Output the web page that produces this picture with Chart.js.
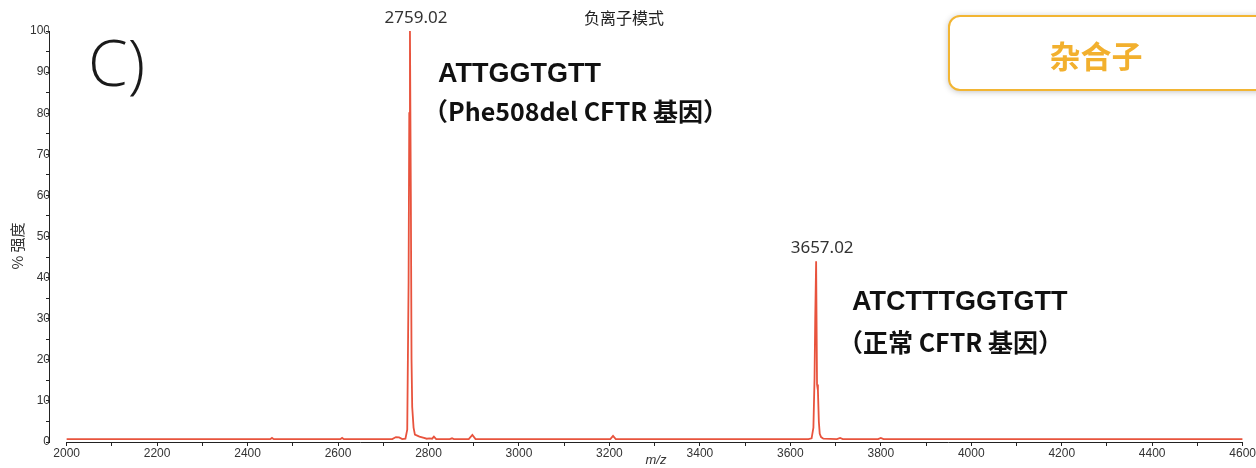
<!DOCTYPE html>
<html>
<head>
<meta charset="utf-8">
<script src="https://cdn.jsdelivr.net/npm/chart.js@4"></script>
<style>
  html, body { margin: 0; padding: 0; background: #fff; }
  #wrap { width: 1256px; height: 468px; position: relative; }
</style>
</head>
<body>
<div id="wrap"><canvas id="c" width="1256" height="468"></canvas></div>
<script>
// ---- data ----
const mz = [2000, 2450, 2454, 2458, 2605, 2609, 2613, 2720, 2728, 2735, 2742, 2749, 2753, 2756, 2757.5, 2759.02, 2761, 2762.5, 2764, 2767, 2770, 2780, 2790, 2796, 2802, 2808, 2812, 2817, 2847, 2852, 2856, 2889, 2897, 2904, 3202, 3208, 3214, 3640, 3647, 3651, 3653.5, 3655, 3657.02, 3659, 3661, 3663, 3665, 3668, 3673, 3703, 3710, 3716, 3794, 3800, 3806, 4600];
const intensity = [0.7, 0.7, 1.0, 0.7, 0.7, 1.0, 0.7, 0.7, 1.2, 1.1, 0.7, 0.8, 3, 39, 80, 100, 60, 20, 8.5, 3.5, 1.8, 1.3, 1.0, 0.8, 0.9, 0.8, 1.3, 0.7, 0.7, 0.9, 0.7, 0.7, 1.7, 0.7, 0.7, 1.5, 0.7, 0.7, 0.9, 3.5, 15.5, 30, 44, 14, 12.5, 5, 2, 1.2, 0.8, 0.7, 1.0, 0.7, 0.7, 1.0, 0.7, 0.7];
const peakLabels = [{ mz: 2759.02, y: 100, text: '2759.02' }, { mz: 3657.02, y: 44, text: '3657.02' }];
const xTickStep = 100, xLabelStep = 200, xStart = 2000, xEnd = 4600;
const yTickStep = 5, yLabelStep = 10;

const points = mz.map((m, i) => ({ x: m, y: intensity[i] }));

const textPlugin = {
  id: 'annot',
  afterDraw(chart) {
    const ctx = chart.ctx, xs = chart.scales.x, ys = chart.scales.y, ca = chart.chartArea;
    ctx.save();
    // x axis line (starts at 2000, detached from y axis)
    ctx.strokeStyle = '#222'; ctx.lineWidth = 1;
    ctx.beginPath();
    ctx.moveTo(xs.getPixelForValue(xStart), Math.round(ca.bottom) + 0.5);
    ctx.lineTo(xs.getPixelForValue(xEnd), Math.round(ca.bottom) + 0.5);
    ctx.stroke();

    // peak labels
    ctx.fillStyle = '#333';
    ctx.font = '17px "Noto Sans", sans-serif';
    ctx.textAlign = 'center'; ctx.textBaseline = 'alphabetic';
    peakLabels.forEach(p => {
      ctx.fillText(p.text, xs.getPixelForValue(p.mz) + 6, ys.getPixelForValue(p.y) - 8);
    });

    // title
    ctx.fillStyle = '#222';
    ctx.font = '16px "Noto Sans CJK SC", sans-serif';
    ctx.textBaseline = 'middle';
    ctx.fillText('负离子模式', 624, 18);

    // y axis title
    ctx.save();
    ctx.translate(17, 246);
    ctx.rotate(-Math.PI / 2);
    ctx.fillStyle = '#333';
    ctx.font = '15px "Noto Sans CJK SC", sans-serif';
    ctx.fillText('% 强度', 0, 0);
    ctx.restore();

    // x axis title
    ctx.fillStyle = '#333';
    ctx.font = 'italic 13px "Liberation Sans", Arial, sans-serif';
    ctx.fillText('m/z', 656, 460);

    // C)
    ctx.textAlign = 'left'; ctx.textBaseline = 'alphabetic';
    ctx.fillStyle = '#1a1a1a';
    ctx.font = '300 64px "Open Sans", sans-serif';
    ctx.fillText('C)', 88, 86);

    // sequence labels
    ctx.fillStyle = '#111';
    ctx.font = 'bold 27px "Liberation Sans", Arial, sans-serif';
    ctx.fillText('ATTGGTGTT', 438, 82);
    ctx.fillText('ATCTTTGGTGTT', 852, 310);
    ctx.font = 'bold 25px "Noto Sans CJK SC", sans-serif';
    ctx.fillText('（Phe508del CFTR 基因）', 423, 121);
    ctx.fillText('（正常 CFTR 基因）', 838, 352);

    // orange box
    ctx.save();
    ctx.shadowColor = 'rgba(0,0,0,0.3)';
    ctx.shadowBlur = 7; ctx.shadowOffsetX = 0; ctx.shadowOffsetY = 1;
    ctx.fillStyle = '#fff';
    ctx.strokeStyle = '#f2b533'; ctx.lineWidth = 2;
    ctx.beginPath();
    ctx.roundRect(949, 16, 320, 74, 11);
    ctx.fill();
    ctx.shadowColor = 'transparent';
    ctx.stroke();
    ctx.restore();
    ctx.fillStyle = '#f2b02e';
    ctx.font = 'bold 31px "Noto Sans CJK SC", sans-serif';
    ctx.textAlign = 'center'; ctx.textBaseline = 'middle';
    ctx.fillText('杂合子', 1096, 56);
    ctx.restore();
  }
};

new Chart(document.getElementById('c'), {
  type: 'line',
  data: {
    datasets: [{
      data: points,
      borderColor: '#e8533d',
      borderWidth: 1.8,
      pointRadius: 0,
      tension: 0,
      fill: false
    }]
  },
  options: {
    responsive: false,
    animation: false,
    events: [],
    layout: { padding: { top: 31, right: 13, bottom: 0, left: 0 } },
    plugins: { legend: { display: false }, tooltip: { enabled: false }, title: { display: false } },
    scales: {
      x: {
        type: 'linear',
        min: 1961,
        max: xEnd,
        afterBuildTicks(s) {
          const t = [];
          for (let v = xStart; v <= xEnd; v += xTickStep) t.push({ value: v });
          s.ticks = t;
        },
        afterFit(s) { s.height = 26; },
        border: { display: false },
        grid: { drawOnChartArea: false, drawTicks: true, tickLength: 4, color: '#222', tickColor: '#222' },
        ticks: {
          autoSkip: false,
          maxRotation: 0,
          padding: 0,
          color: '#333',
          font: { family: '"Liberation Sans", Arial, sans-serif', size: 12 },
          callback: v => (Math.round(v) % xLabelStep === 0 ? String(Math.round(v)) : '')
        }
      },
      y: {
        min: 0,
        max: 100,
        afterFit(s) { s.width = 49; },
        border: { display: true, color: '#222', width: 1 },
        grid: { drawOnChartArea: false, drawTicks: true, tickLength: 3, tickColor: '#222' },
        ticks: {
          stepSize: yTickStep,
          autoSkip: false,
          padding: -4,
          color: '#333',
          font: { family: '"Liberation Sans", Arial, sans-serif', size: 12 },
          callback: v => (v % yLabelStep === 0 ? String(v) : '')
        }
      }
    }
  },
  plugins: [textPlugin]
});
</script>
</body>
</html>
